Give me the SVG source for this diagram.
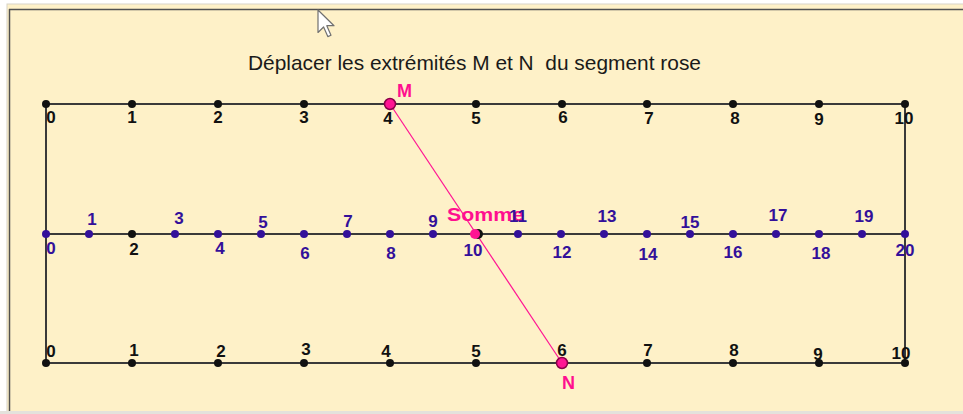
<svg xmlns="http://www.w3.org/2000/svg" width="963" height="414" viewBox="0 0 963 414">
<style>
text{font-family:"Liberation Sans",Arial,sans-serif}
.lb{font-size:17px;font-weight:bold;fill:#111;text-anchor:middle}
.lm{font-size:17px;font-weight:bold;fill:#33109a;text-anchor:middle}
.pk{font-size:18px;font-weight:bold;fill:#ff0f8f}
.dk{fill:#111}
.dm{fill:#33109a}
.ax{stroke:#3a3a3a;stroke-width:2;fill:none}
</style>
<rect x="0" y="0" width="963" height="414" fill="#ffffff"/>
<rect x="7" y="4" width="960" height="408" fill="#fef1c8" stroke="#d8d4c8" stroke-width="1"/>
<line x1="9" y1="9.5" x2="963" y2="9.5" stroke="#505050" stroke-width="1.5"/>
<line x1="9.5" y1="9" x2="9.5" y2="411" stroke="#505050" stroke-width="1.5"/>
<rect x="0" y="411" width="963" height="3" fill="#e4e2dc"/>
<path d="M318,10 L318,32.5 L323.6,27 L327.8,36.6 L331,35.2 L326.8,25.7 L334,25.7 Z" fill="#ffffff" stroke="#707070" stroke-width="1.2" stroke-linejoin="round"/>
<text x="248" y="70" font-size="21" fill="#1a1a1a" textLength="453" lengthAdjust="spacingAndGlyphs">Déplacer les extrémités M et N&#160; du segment rose</text>
<g id="connectors">
<line class="ax" x1="46" y1="104" x2="905" y2="104"/>
<line class="ax" x1="46" y1="234" x2="905" y2="234"/>
<line class="ax" x1="46" y1="363" x2="905" y2="363"/>
<line class="ax" x1="46" y1="104" x2="46" y2="363"/>
<line class="ax" x1="905" y1="104" x2="905" y2="363"/>
<line x1="390" y1="104" x2="562" y2="363" stroke="#ff1493" stroke-width="1.2"/>
</g>
<g id="top-row">
<g id="t0"><circle class="dk" cx="46" cy="104" r="4"/><text class="lb" x="51" y="123" text-anchor="start">0</text></g>
<g id="t1"><circle class="dk" cx="132" cy="104" r="4"/><text class="lb" x="132" y="123">1</text></g>
<g id="t2"><circle class="dk" cx="218" cy="104" r="4"/><text class="lb" x="218" y="123">2</text></g>
<g id="t3"><circle class="dk" cx="304" cy="104" r="4"/><text class="lb" x="304" y="123">3</text></g>
<g id="t4"><circle class="dk" cx="390" cy="104" r="4"/><text class="lb" x="388" y="124">4</text></g>
<g id="t5"><circle class="dk" cx="476" cy="104" r="4"/><text class="lb" x="476" y="124">5</text></g>
<g id="t6"><circle class="dk" cx="562" cy="104" r="4"/><text class="lb" x="563" y="123">6</text></g>
<g id="t7"><circle class="dk" cx="647" cy="104" r="4"/><text class="lb" x="649" y="124">7</text></g>
<g id="t8"><circle class="dk" cx="733" cy="104" r="4"/><text class="lb" x="735" y="124">8</text></g>
<g id="t9"><circle class="dk" cx="819" cy="104" r="4"/><text class="lb" x="819" y="125">9</text></g>
<g id="t10"><circle class="dk" cx="905" cy="104" r="4"/><text class="lb" x="904" y="124" text-anchor="end">10</text></g>
</g>
<g id="bottom-row">
<g id="b0"><circle class="dk" cx="46" cy="363" r="4"/><text class="lb" x="51" y="357" text-anchor="start">0</text></g>
<g id="b1"><circle class="dk" cx="132" cy="363" r="4"/><text class="lb" x="134" y="356">1</text></g>
<g id="b2"><circle class="dk" cx="218" cy="363" r="4"/><text class="lb" x="221" y="357">2</text></g>
<g id="b3"><circle class="dk" cx="304" cy="363" r="4"/><text class="lb" x="306" y="355">3</text></g>
<g id="b4"><circle class="dk" cx="390" cy="363" r="4"/><text class="lb" x="386" y="357">4</text></g>
<g id="b5"><circle class="dk" cx="476" cy="363" r="4"/><text class="lb" x="476" y="357">5</text></g>
<g id="b6"><circle class="dk" cx="562" cy="363" r="4"/><text class="lb" x="562" y="356">6</text></g>
<g id="b7"><circle class="dk" cx="647" cy="363" r="4"/><text class="lb" x="648" y="356">7</text></g>
<g id="b8"><circle class="dk" cx="733" cy="363" r="4"/><text class="lb" x="734" y="356">8</text></g>
<g id="b9"><circle class="dk" cx="819" cy="363" r="4"/><text class="lb" x="818" y="360">9</text></g>
<g id="b10"><circle class="dk" cx="905" cy="363" r="4"/><text class="lb" x="901" y="359" text-anchor="end">10</text></g>
</g>
<g id="middle-row">
<g id="m0"><circle class="dm" cx="46" cy="234" r="4"/><text class="lm" x="51" y="254" text-anchor="start">0</text></g>
<g id="m1"><circle class="dm" cx="89" cy="234" r="4"/><text class="lm" x="92" y="225">1</text></g>
<g id="m2"><circle class="dk" cx="132" cy="234" r="4"/><text class="lb" x="134" y="255">2</text></g>
<g id="m3"><circle class="dm" cx="175" cy="234" r="4"/><text class="lm" x="179" y="224">3</text></g>
<g id="m4"><circle class="dm" cx="218" cy="234" r="4"/><text class="lm" x="220" y="254">4</text></g>
<g id="m5"><circle class="dm" cx="261" cy="234" r="4"/><text class="lm" x="263" y="228">5</text></g>
<g id="m6"><circle class="dm" cx="304" cy="234" r="4"/><text class="lm" x="305" y="259">6</text></g>
<g id="m7"><circle class="dm" cx="347" cy="234" r="4"/><text class="lm" x="348" y="227">7</text></g>
<g id="m8"><circle class="dm" cx="390" cy="234" r="4"/><text class="lm" x="391" y="259">8</text></g>
<g id="m9"><circle class="dm" cx="433" cy="234" r="4"/><text class="lm" x="433" y="227">9</text></g>
<g id="m10"><circle class="dk" cx="478" cy="234" r="5"/><text class="lm" x="473" y="256">10</text></g>
<g id="somme"><text class="pk" x="447" y="221" font-size="19" textLength="77" lengthAdjust="spacingAndGlyphs">Somme</text><circle cx="475" cy="234" r="5" fill="#ff1493"/></g>
<g id="m11"><circle class="dm" cx="518" cy="234" r="4"/><text class="lm" x="518" y="222">11</text></g>
<g id="m12"><circle class="dm" cx="561" cy="234" r="4"/><text class="lm" x="562" y="258">12</text></g>
<g id="m13"><circle class="dm" cx="604" cy="234" r="4"/><text class="lm" x="607" y="222">13</text></g>
<g id="m14"><circle class="dm" cx="647" cy="234" r="4"/><text class="lm" x="648" y="260">14</text></g>
<g id="m15"><circle class="dm" cx="690" cy="234" r="4"/><text class="lm" x="690" y="228">15</text></g>
<g id="m16"><circle class="dm" cx="733" cy="234" r="4"/><text class="lm" x="733" y="258">16</text></g>
<g id="m17"><circle class="dm" cx="776" cy="234" r="4"/><text class="lm" x="778" y="221">17</text></g>
<g id="m18"><circle class="dm" cx="819" cy="234" r="4"/><text class="lm" x="821" y="259">18</text></g>
<g id="m19"><circle class="dm" cx="862" cy="234" r="4"/><text class="lm" x="864" y="222">19</text></g>
<g id="m20"><circle class="dm" cx="905" cy="234" r="4"/><text class="lm" x="905" y="256" text-anchor="end">20</text></g>
</g>
<g id="M"><circle cx="390" cy="104" r="5.5" fill="#ff1493" stroke="#8a0048" stroke-width="1.5"/><text class="pk" x="397" y="97">M</text></g>
<g id="N"><circle cx="562" cy="363" r="5.5" fill="#ff1493" stroke="#8a0048" stroke-width="1.5"/><text class="pk" x="562" y="389">N</text></g>
</svg>
